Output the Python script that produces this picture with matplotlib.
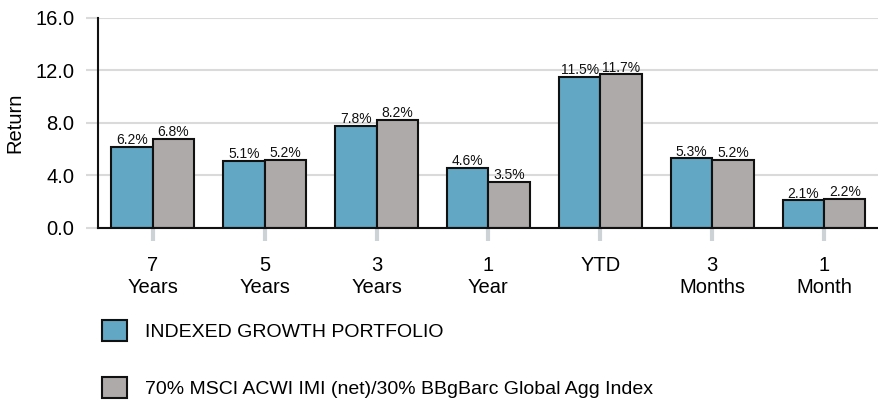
import matplotlib
matplotlib.use("Agg")
import matplotlib.pyplot as plt
from matplotlib.patches import Patch
import numpy as np

plt.rcParams['font.family'] = ['Liberation Sans', 'DejaVu Sans']

categories = ["7\nYears", "5\nYears", "3\nYears", "1\nYear", "YTD", "3\nMonths", "1\nMonth"]
portfolio = [6.2, 5.1, 7.8, 4.6, 11.5, 5.3, 2.1]
benchmark = [6.8, 5.2, 8.2, 3.5, 11.7, 5.2, 2.2]
series_names = ["INDEXED GROWTH PORTFOLIO",
                "70% MSCI ACWI IMI (net)/30% BBgBarc Global Agg Index"]
yticks = [0, 4, 8, 12, 16]

blue = "#62A7C3"
gray = "#ADAAA9"

fig = plt.figure(figsize=(8.79, 4.04), dpi=100)
ax = fig.add_axes([98/879, 1-228/404, (880-98)/879, 210/404])

x = np.arange(len(categories))
w = 0.37
b1 = ax.bar(x - w/2, portfolio, w, color=blue, edgecolor="#111111", linewidth=1.5, zorder=3)
b2 = ax.bar(x + w/2, benchmark, w, color=gray, edgecolor="#111111", linewidth=1.5, zorder=3)

for bars, vals in ((b1, portfolio), (b2, benchmark)):
    for r, v in zip(bars, vals):
        ax.text(r.get_x() + r.get_width()/2, v + 0.22, f"{v:.1f}%",
                ha="center", va="baseline", fontsize=10, color="#111111")

ax.set_xlim(-0.49, 6.5)
ax.set_ylim(0, 16)
ax.set_yticks(yticks)
ax.set_yticklabels([f"{t:.1f}" for t in yticks], fontsize=14.5)
ax.set_xticks(x)
ax.set_xticklabels(categories, fontsize=14.5, linespacing=1.2, va="top")
ax.grid(axis="y", color="#DADADA", linewidth=1.5, zorder=0)
ax.tick_params(axis="y", length=9, width=1.5, color="#DADADA", pad=8)
ax.tick_params(axis="x", length=9, width=3, color="#CDD2D6", pad=11)
for s in ("top", "right"):
    ax.spines[s].set_visible(False)
for s in ("left", "bottom"):
    ax.spines[s].set_color("#111111")
    ax.spines[s].set_linewidth(1.5)
ax.spines["bottom"].set_zorder(4)
ax.set_ylabel("Return", fontsize=14.5, labelpad=8)

handles = [Patch(facecolor=blue, edgecolor="#111111", linewidth=1.5),
           Patch(facecolor=gray, edgecolor="#111111", linewidth=1.5)]
fig.legend(handles, series_names, loc="upper left",
           bbox_to_anchor=(94/879, 1-312/404), frameon=False,
           fontsize=14, handlelength=1.3, handleheight=1.3,
           labelspacing=1.85, handletextpad=0.93, borderaxespad=0)

fig.savefig("out.png", dpi=100)
